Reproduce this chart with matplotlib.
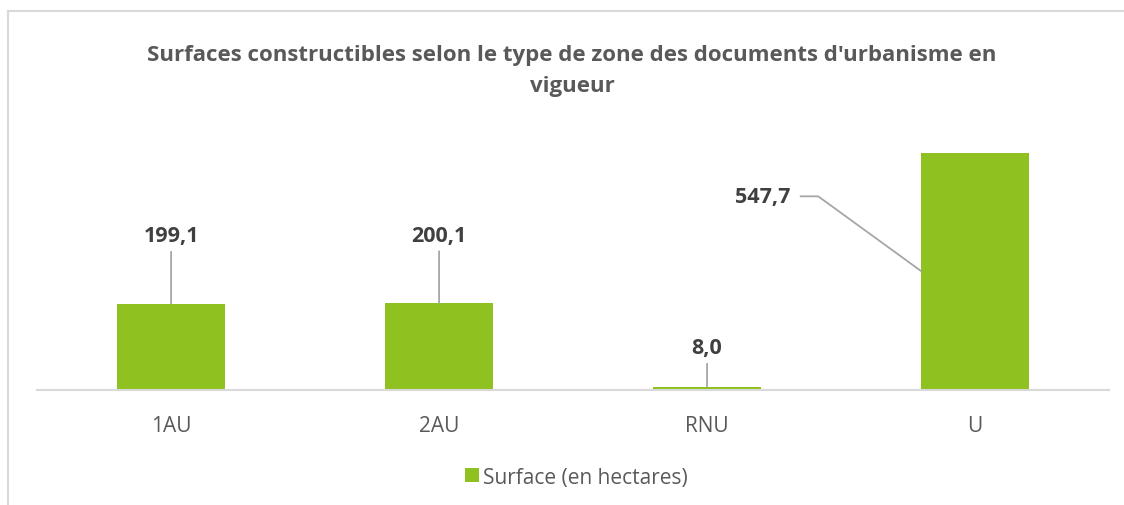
import numpy as np
import matplotlib.pyplot as plt
from matplotlib.lines import Line2D

plt.rcParams['font.family'] = ['Open Sans', 'DejaVu Sans']

categories = ["1AU", "2AU", "RNU", "U"]
surface = [199.1, 200.1, 8.0, 547.7]
labels = ["199,1", "200,1", "8,0", "547,7"]

green = '#8FC221'
grey_txt = '#595959'
dark_txt = '#404040'
line_col = '#A6A6A6'

fig = plt.figure(figsize=(11.24, 5.06), dpi=100)
ax = fig.add_axes([0.033, 0.2273, 0.9537, 0.5138])

x = np.arange(len(categories))
w = 0.4
bars = ax.bar(x, surface, width=w, color=green, label="Surface (en hectares)", zorder=2)

ax.set_xlim(-0.5, len(categories) - 0.5)
ax.set_ylim(0, 600)
ax.set_yticks([])
for s in ['top', 'right', 'left']:
    ax.spines[s].set_visible(False)
ax.spines['bottom'].set_color('#D9D9D9')
ax.spines['bottom'].set_linewidth(1.5)
ax.set_xticks(x)
ax.set_xticklabels(categories, fontsize=15, color=grey_txt)
ax.tick_params(axis='x', length=0, pad=18)

# data labels with leader lines
offsets = {0: 49, 1: 49, 2: 28}
for i, (v, lab) in enumerate(zip(surface, labels)):
    if i in offsets:
        ax.annotate(lab, xy=(x[i], v), xytext=(0, offsets[i]), textcoords='offset points',
                    ha='center', va='center', fontsize=15.5, fontweight='bold', color=dark_txt,
                    arrowprops=dict(arrowstyle='-', color=line_col, lw=1.3, shrinkA=2, shrinkB=0))
    else:
        ax.annotate(lab, xy=(x[i] - w / 2, v / 2), xytext=(-114, 54), textcoords='offset points',
                    ha='center', va='center', fontsize=15.5, fontweight='bold', color=dark_txt,
                    arrowprops=dict(arrowstyle='-', color=line_col, lw=1.3, shrinkA=5, shrinkB=0,
                                    connectionstyle='angle,angleA=0,angleB=144'))

fig.text(0.509, 0.859, "Surfaces constructibles selon le type de zone des documents d'urbanisme en\nvigueur",
         ha='center', va='center', fontsize=16, fontweight='bold', color=grey_txt, linespacing=1.62)

fig.legend(handles=[bars], loc='center', bbox_to_anchor=(0.513, 0.055), frameon=False,
           fontsize=15, labelcolor=grey_txt, handlelength=0.65, handleheight=0.65, handletextpad=0.2)

# chart area border (partially cropped in the reference)
fig.add_artist(Line2D([8 / 1124, 1.0], [1 - 12 / 506, 1 - 12 / 506], color='#D9D9D9', lw=1.5,
                      transform=fig.transFigure))
fig.add_artist(Line2D([8 / 1124, 8 / 1124], [1 - 12 / 506, 0.0], color='#D9D9D9', lw=1.5,
                      transform=fig.transFigure))

fig.savefig('out.png', dpi=100)
